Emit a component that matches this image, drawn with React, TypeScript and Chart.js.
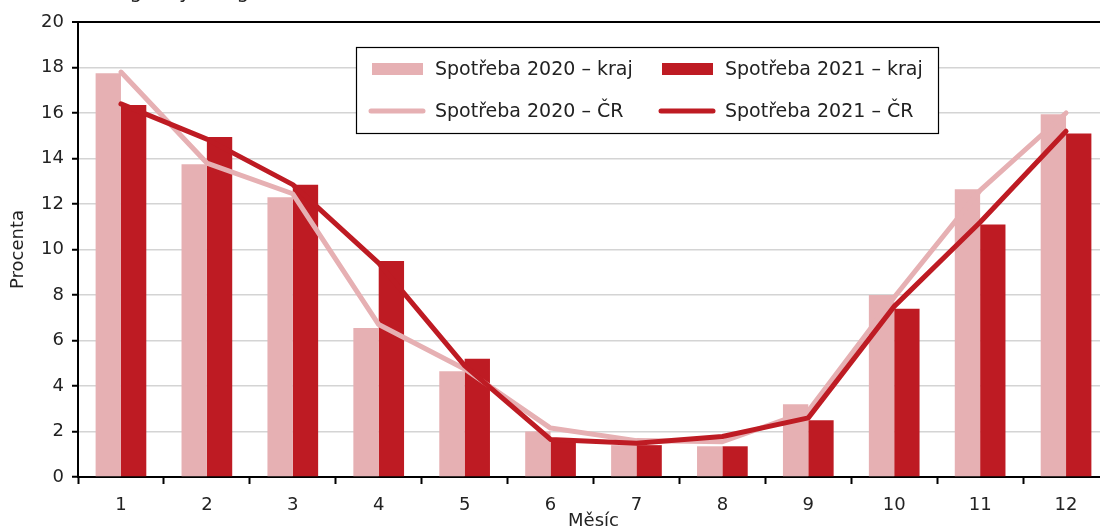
import React, { useEffect, useRef } from "react";
import { Chart, registerables } from "chart.js";

Chart.register(...registerables);

const months = ["1", "2", "3", "4", "5", "6", "7", "8", "9", "10", "11", "12"];
const kraj2020 = [17.75, 13.75, 12.3, 6.55, 4.65, 2.0, 1.4, 1.35, 3.2, 8.0, 12.65, 15.95];
const kraj2021 = [16.35, 14.95, 12.85, 9.5, 5.2, 1.6, 1.4, 1.35, 2.5, 7.4, 11.1, 15.1];
const cr2020 = [17.8, 13.8, 12.45, 6.7, 4.75, 2.15, 1.6, 1.55, 2.9, 7.9, 12.6, 16.0];
const cr2021 = [16.4, 14.85, 12.85, 9.4, 4.9, 1.65, 1.48, 1.78, 2.6, 7.5, 11.2, 15.2];
const yTicks = [0, 2, 4, 6, 8, 10, 12, 14, 16, 18, 20];

const labelKraj2020 = "Spotřeba 2020 – kraj";
const labelKraj2021 = "Spotřeba 2021 – kraj";
const labelCr2020 = "Spotřeba 2020 – ČR";
const labelCr2021 = "Spotřeba 2021 – ČR";
const titleText = "Energie bytů a garáží";
const xTitle = "Měsíc";
const yTitle = "Procenta";

const PINK = "#E6B0B3";
const RED = "#BE1B23";
const FONT = "'DejaVu Sans', Verdana, sans-serif";
const TEXT = "#222222";

const legendPlugin = {
  id: "boxLegend",
  afterDraw(chart: any) {
    const ctx = chart.ctx;
    ctx.save();
    // partial title cut at top edge (only descenders visible)
    ctx.fillStyle = TEXT;
    ctx.font = `20px ${FONT}`;
    ctx.textBaseline = "alphabetic";
    ctx.textAlign = "left";
    ctx.fillText(titleText, 84, -2);

    const bx = 356, by = 47, bw = 582, bh = 86;
    ctx.fillStyle = "#ffffff";
    ctx.fillRect(bx, by, bw, bh);
    ctx.strokeStyle = "#000000";
    ctx.lineWidth = 1.2;
    ctx.strokeRect(bx + 0.5, by + 0.5, bw, bh);

    const ds = chart.data.datasets;
    const items = [
      { label: ds[2].label, color: ds[2].backgroundColor, type: "bar", x: 372, tx: 435, y: 69 },
      { label: ds[3].label, color: ds[3].backgroundColor, type: "bar", x: 662, tx: 725, y: 69 },
      { label: ds[1].label, color: ds[1].borderColor, type: "line", x: 372, tx: 435, y: 111 },
      { label: ds[0].label, color: ds[0].borderColor, type: "line", x: 662, tx: 725, y: 111 },
    ];
    ctx.font = `19px ${FONT}`;
    ctx.textBaseline = "middle";
    for (const it of items) {
      if (it.type === "bar") {
        ctx.fillStyle = it.color;
        ctx.fillRect(it.x, it.y - 6, 51, 12);
      } else {
        ctx.strokeStyle = it.color;
        ctx.lineWidth = 5;
        ctx.lineCap = "round";
        ctx.beginPath();
        ctx.moveTo(it.x - 1, it.y);
        ctx.lineTo(it.x + 51, it.y);
        ctx.stroke();
      }
      ctx.fillStyle = TEXT;
      ctx.fillText(it.label, it.tx, it.y + 1);
    }
    ctx.restore();
  },
};

export default function App() {
  const ref = useRef<HTMLCanvasElement | null>(null);
  useEffect(() => {
    if (!ref.current) return;
    const chart = new Chart(ref.current, {
      type: "bar",
      data: {
        labels: months,
        datasets: [
          {
            type: "line",
            label: labelCr2021,
            data: cr2021,
            borderColor: RED,
            backgroundColor: RED,
            borderWidth: 5,
            pointRadius: 0,
            borderCapStyle: "round",
            borderJoinStyle: "round",
            tension: 0,
            order: 0,
          } as any,
          {
            type: "line",
            label: labelCr2020,
            data: cr2020,
            borderColor: PINK,
            backgroundColor: PINK,
            borderWidth: 5,
            pointRadius: 0,
            borderCapStyle: "round",
            borderJoinStyle: "round",
            tension: 0,
            order: 1,
          } as any,
          {
            type: "bar",
            label: labelKraj2020,
            data: kraj2020,
            backgroundColor: PINK,
            borderWidth: 0,
            categoryPercentage: 0.59,
            barPercentage: 1,
            order: 2,
          },
          {
            type: "bar",
            label: labelKraj2021,
            data: kraj2021,
            backgroundColor: RED,
            borderWidth: 0,
            categoryPercentage: 0.59,
            barPercentage: 1,
            order: 2,
          },
        ],
      },
      options: {
        responsive: false,
        animation: false,
        devicePixelRatio: 1,
        layout: { padding: { top: 22, left: 0, right: 1, bottom: 0 } },
        plugins: {
          legend: { display: false },
          tooltip: { enabled: false },
          title: { display: false },
        },
        scales: {
          x: {
            type: "category",
            offset: true,
            grid: {
              offset: true,
              drawOnChartArea: false,
              drawTicks: true,
              tickLength: 7,
              tickColor: "#000",
              tickWidth: 2,
            },
            border: { display: true, color: "#000", width: 2 },
            ticks: {
              color: TEXT,
              font: { family: FONT, size: 18 },
              padding: 11,
              maxRotation: 0,
              autoSkip: false,
            },
            title: {
              display: true,
              text: xTitle,
              color: TEXT,
              font: { family: FONT, size: 18 },
              padding: { top: 0, bottom: 0 },
            },
            afterFit(scale: any) {
              scale.height = 55;
            },
          },
          y: {
            min: 0,
            max: 20,
            afterBuildTicks(scale: any) {
              scale.ticks = yTicks.map((v) => ({ value: v }));
            },
            grid: {
              color: (c: any) => (c.tick && c.tick.value === 20 ? "#000" : c.tick && c.tick.value === 0 ? "rgba(0,0,0,0)" : "#d4d4d4"),
              lineWidth: (c: any) => (c.tick && c.tick.value === 20 ? 2 : 1.5),
              drawTicks: true,
              tickLength: 6,
              tickColor: "#000",
              tickWidth: 2,
            },
            border: { display: true, color: "#000", width: 2 },
            ticks: {
              color: TEXT,
              font: { family: FONT, size: 18 },
              padding: 8,
            },
            title: {
              display: true,
              text: yTitle,
              color: TEXT,
              font: { family: FONT, size: 18 },
              padding: { top: 8, bottom: 0 },
            },
            afterFit(scale: any) {
              scale.width = 78;
            },
          },
        },
      },
      plugins: [legendPlugin],
    } as any);
    return () => chart.destroy();
  }, []);

  return (
    <div
      style={{
        position: "fixed",
        left: 0,
        top: 0,
        width: 1100,
        height: 532,
        overflow: "hidden",
        background: "#fff",
      }}
    >
      <canvas ref={ref} width={1110} height={532} style={{ display: "block", width: 1110, height: 532 }} />
    </div>
  );
}
